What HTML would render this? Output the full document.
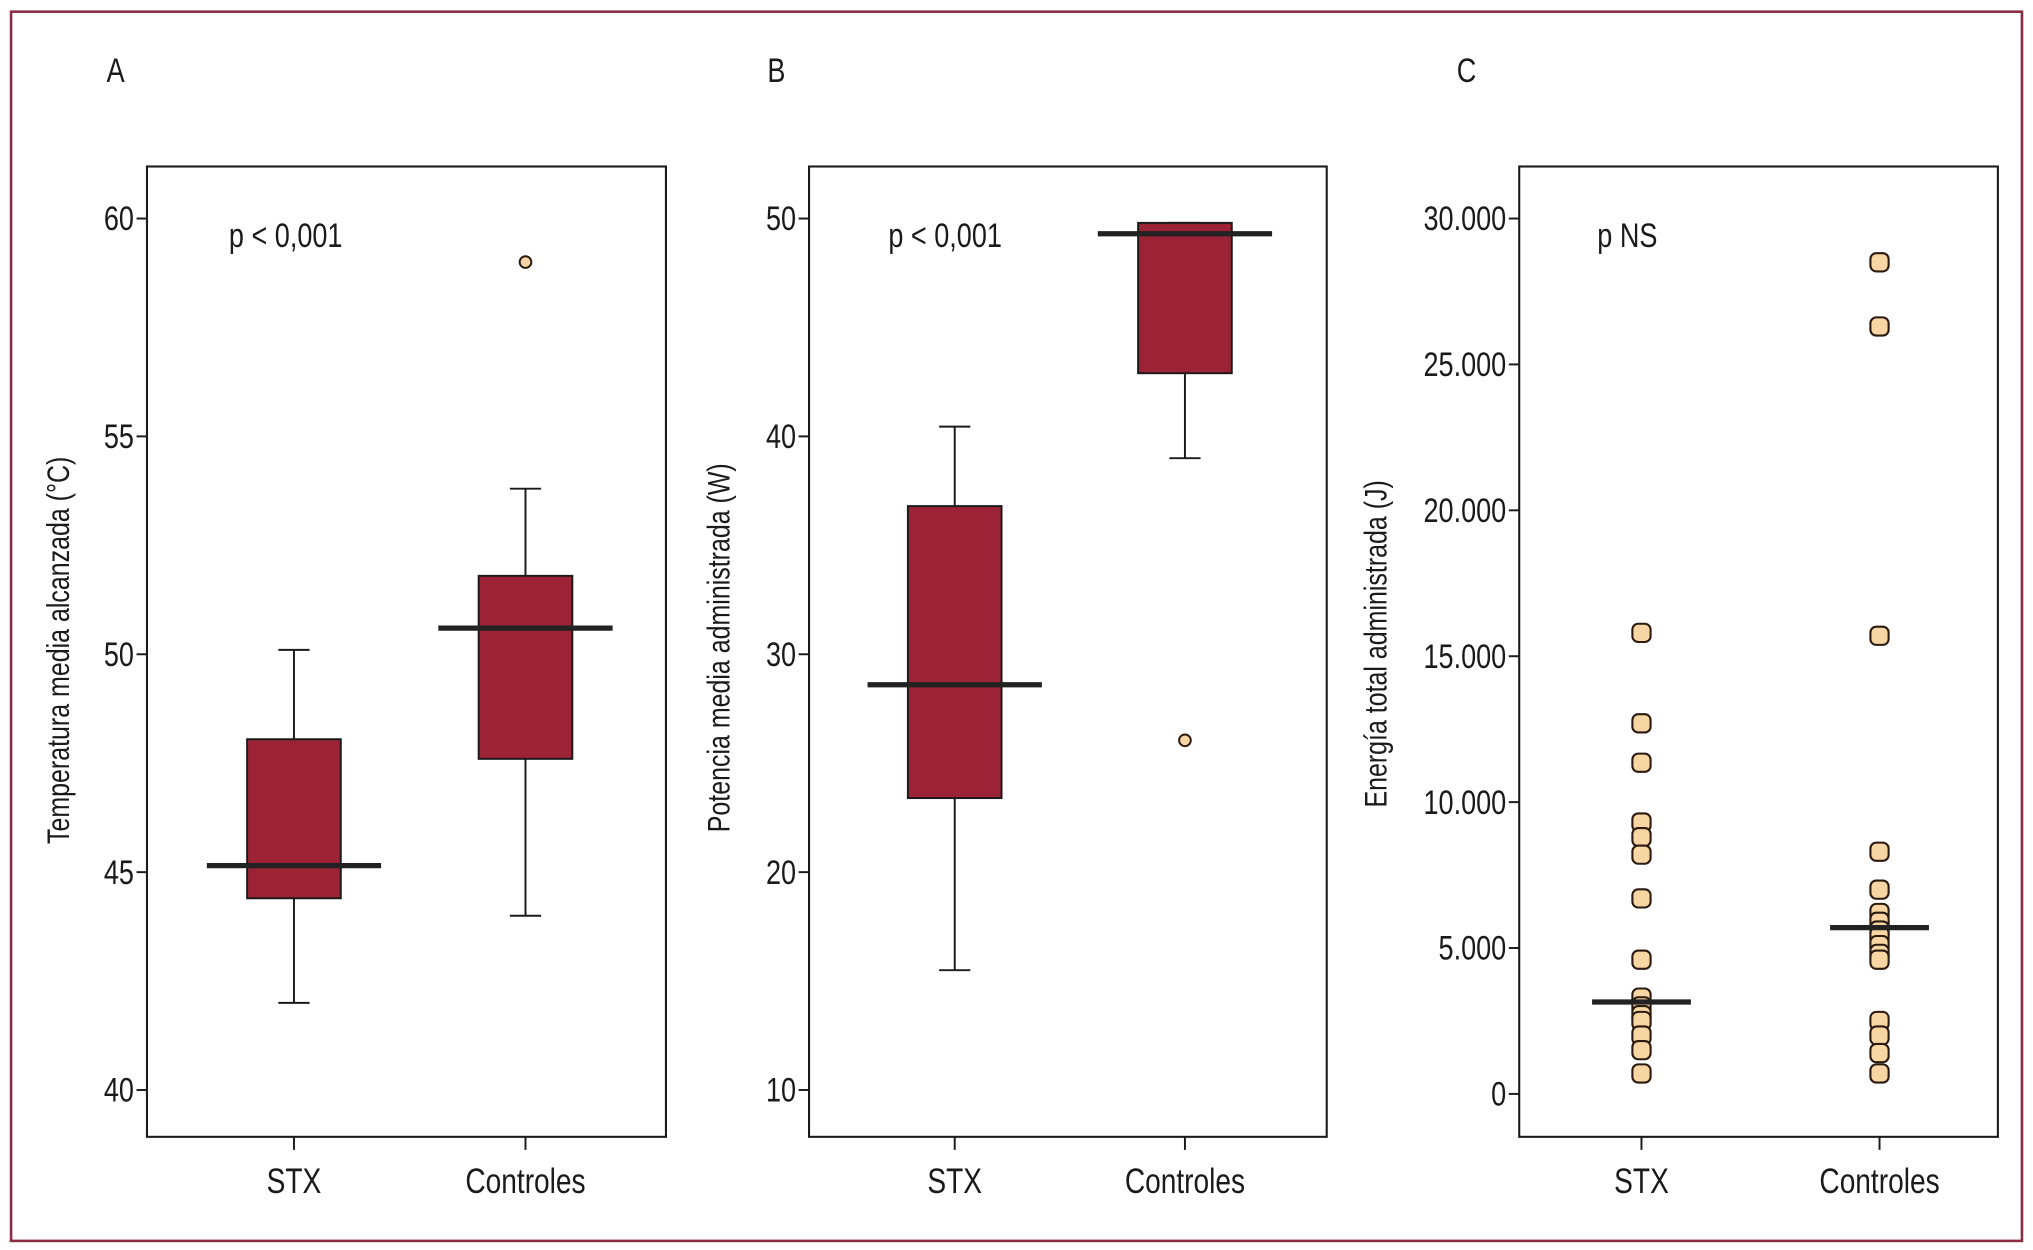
<!DOCTYPE html>
<html><head><meta charset="utf-8"><style>
html,body{margin:0;padding:0;background:#fff;}
svg{display:block;}
text{font-family:"Liberation Sans Narrow","Liberation Sans",sans-serif;fill:#1a1a1a;}
</style></head><body>
<svg id="fig" width="2033" height="1250" viewBox="0 0 1563 961" preserveAspectRatio="none" xmlns="http://www.w3.org/2000/svg">
<rect x="8.5" y="9" width="1546" height="945" fill="none" stroke="#8b2d45" stroke-width="2"/>
</svg>
<script>
const categories = ["STX", "Controles"];
// Panel A: temperatura
const aTicks = [40, 45, 50, 55, 60];
const aStats = [ {low:42.0, q1:44.4, med:45.15, q3:48.05, high:50.1}, {low:44.0, q1:47.6, med:50.6, q3:51.8, high:53.8} ];
const aOutliers = [[], [59.0]];
// Panel B: potencia
const bTicks = [10, 20, 30, 40, 50];
const bStats = [ {low:15.5, q1:23.4, med:28.6, q3:36.8, high:40.45}, {low:39.0, q1:42.9, med:49.3, q3:49.8, high:49.8} ];
const bOutliers = [[], [26.05]];
// Panel C: energía
const cTicks = [0, 5000, 10000, 15000, 20000, 25000, 30000];
const cTickLabels = ["0", "5.000", "10.000", "15.000", "20.000", "25.000", "30.000"];
const cStxPoints = [15800, 12700, 11350, 9300, 8800, 8200, 6700, 4600, 3300, 3000, 2700, 2500, 2000, 1500, 700];
const cCtrlPoints = [28500, 26300, 15700, 8300, 7000, 6200, 5900, 5600, 5400, 5100, 4800, 4600, 2500, 2000, 1400, 700];
const cMedians = [3150, 5700];

const NS = "http://www.w3.org/2000/svg";
const svg = document.getElementById("fig");
const SX = 0.8;
function el(tag, attrs, parent, txt){
  const e = document.createElementNS(NS, tag);
  for (const k in attrs) e.setAttribute(k, attrs[k]);
  if (txt !== undefined) e.textContent = txt;
  (parent || svg).appendChild(e);
  return e;
}
function label(x, y, size, anchor, str, parent, rot){
  const tr = rot ? `translate(${x},${y}) rotate(-90) scale(${SX},1)` : `translate(${x},${y}) scale(${SX},1)`;
  return el("text", {x: 0, y: 0, "font-size": size, "text-anchor": anchor, transform: tr}, parent, str);
}

function panel(cfg){
  const g = el("g", {});
  
  
  const y = v => cfg.y0 + (cfg.vmax - v) * (cfg.y1 - cfg.y0) / (cfg.vmax - cfg.vmin);
  const t = label(cfg.letterX, 63, 26, "start", cfg.letter, g);
  
  
  const frame = el("rect", {x: cfg.left, y: 128, width: cfg.right - cfg.left, height: 746, fill: "none", stroke: "#1a1a1a", "stroke-width": 1.6}, g);
  
  
  cfg.ticks.forEach((v, i) => {
    const ln = el("line", {x1: cfg.left - 8, x2: cfg.left, y1: y(v), y2: y(v), stroke: "#1a1a1a", "stroke-width": 1.5}, g);
    
    
    const tl = label(cfg.left - 10, y(v) + 9, 26, "end", cfg.tickLabels ? cfg.tickLabels[i] : String(v), g);
    
    
  });
  const tt = label(cfg.titleX, cfg.titleY, 24, "middle", cfg.title, g, true);
  
  
  const pt = label(cfg.pX, 190, 26, "start", cfg.p, g);
  
  
  categories.forEach((c, i) => {
    const cx = cfg.cx[i];
    const tk = el("line", {x1: cx, x2: cx, y1: 874, y2: 884, stroke: "#1a1a1a", "stroke-width": 1.5}, g);
    
    
    const xl = label(cx, 917, 27, "middle", c, g);
    
    
  });
  return {g, y};
}

function boxes(p, cfg, stats, outliers){
  stats.forEach((s, i) => {
    const cx = cfg.cx[i];
    const w1 = el("line", {x1: cx, x2: cx, y1: p.y(s.low), y2: p.y(s.q1), stroke: "#1a1a1a", "stroke-width": 1.5}, p.g);
    
    
    const w2 = el("line", {x1: cx, x2: cx, y1: p.y(s.q3), y2: p.y(s.high), stroke: "#1a1a1a", "stroke-width": 1.5}, p.g);
    
    
    [s.low, s.high].forEach(v => {
      const cap = el("line", {x1: cx - 12, x2: cx + 12, y1: p.y(v), y2: p.y(v), stroke: "#1a1a1a", "stroke-width": 1.5}, p.g);
      
      
    });
    const b = el("rect", {x: cx - 36, y: p.y(s.q3), width: 72, height: p.y(s.q1) - p.y(s.q3), fill: "#9b2335", stroke: "#1a1a1a", "stroke-width": 1.5}, p.g);
    
    
    const m = el("line", {x1: cx - 67, x2: cx + 67, y1: p.y(s.med), y2: p.y(s.med), stroke: "#222", "stroke-width": 4}, p.g);
    
    
    outliers[i].forEach(v => {
      const o = el("circle", {cx: cx, cy: p.y(v), r: 4.5, fill: "#f8d6a3", stroke: "#2a1a10", "stroke-width": 1.5}, p.g);
      
      
    });
  });
}

const cfgA = {letter:"A", letterX:82, left:113, right:512, y0:168, y1:838, vmin:40, vmax:60, ticks:aTicks, title:"Temperatura media alcanzada (°C)", titleX:53, titleY:500, p:"p < 0,001", pX:176, cx:[226,404]};
const pA = panel(cfgA); boxes(pA, cfgA, aStats, aOutliers);
const cfgB = {letter:"B", letterX:590, left:622, right:1020, y0:168, y1:838, vmin:10, vmax:50, ticks:bTicks, title:"Potencia media administrada (W)", titleX:561, titleY:498, p:"p < 0,001", pX:683, cx:[734,911]};
const pB = panel(cfgB); boxes(pB, cfgB, bStats, bOutliers);
const cfgC = {letter:"C", letterX:1120, left:1168, right:1536, y0:168, y1:841, vmin:0, vmax:30000, ticks:cTicks, tickLabels:cTickLabels, title:"Energía total administrada (J)", titleX:1066, titleY:495, p:"p NS", pX:1228, cx:[1262,1445]};
const pC = panel(cfgC);
[cStxPoints, cCtrlPoints].forEach((pts, i) => {
  pts.forEach(v => {
    const d = el("rect", {x: cfgC.cx[i] - 7, y: pC.y(v) - 7, width: 14, height: 14, rx: 4.5, fill: "#f8d6a3", stroke: "#2a1a10", "stroke-width": 1.6}, pC.g);
    
    
  });
  const m = el("line", {x1: cfgC.cx[i] - 38, x2: cfgC.cx[i] + 38, y1: pC.y(cMedians[i]), y2: pC.y(cMedians[i]), stroke: "#222", "stroke-width": 4}, pC.g);
  
  
});
</script>
</body></html>
